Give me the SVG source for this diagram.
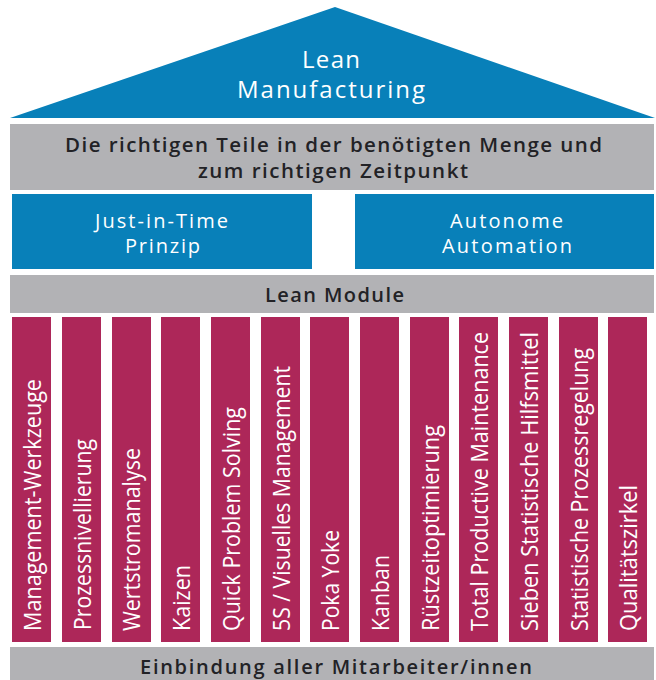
<svg xmlns="http://www.w3.org/2000/svg" width="656" height="680" viewBox="0 0 656 680">
<style>
.blue{fill:#0880B9}
.gray{fill:#B2B2B5}
.col{fill:#AD2759}
.wt{font-family:"Open Sans","Liberation Sans",sans-serif;fill:#FFFFFF;font-weight:500;text-anchor:middle}
.dt{font-family:"Open Sans","Liberation Sans",sans-serif;fill:#222226;font-weight:600;text-anchor:middle}
.ct{font-family:"Open Sans","Liberation Sans",sans-serif;fill:#FFFFFF;font-size:23px;font-weight:400}
</style>
<rect width="656" height="680" fill="#FFFFFF"/>
<g id="roof">
<polygon class="blue" points="10,118 335,7 655,118"/>
<text class="wt" x="331" y="68" font-size="24" textLength="58" lengthAdjust="spacing">Lean</text>
<text class="wt" x="331" y="98" font-size="24" textLength="188" lengthAdjust="spacing">Manufacturing</text>
</g>
<g id="goal">
<rect class="gray" x="10" y="124" width="644" height="66"/>
<text class="dt" x="333.5" y="152" font-size="20.5" textLength="537" lengthAdjust="spacing">Die richtigen Teile in der benötigten Menge und</text>
<text class="dt" x="333" y="178" font-size="20.5" textLength="270" lengthAdjust="spacing">zum richtigen Zeitpunkt</text>
</g>
<g id="jit">
<rect class="blue" x="12" y="194" width="300" height="75"/>
<text class="wt" x="161.5" y="228" font-size="20" textLength="133" lengthAdjust="spacing">Just-in-Time</text>
<text class="wt" x="162.5" y="253" font-size="20" textLength="75" lengthAdjust="spacing">Prinzip</text>
</g>
<g id="jidoka">
<rect class="blue" x="355" y="194" width="299" height="75"/>
<text class="wt" x="506.5" y="228" font-size="20" textLength="113" lengthAdjust="spacing">Autonome</text>
<text class="wt" x="507" y="253" font-size="20" textLength="130" lengthAdjust="spacing">Automation</text>
</g>
<g id="lean-module">
<rect class="gray" x="10" y="275" width="644" height="38"/>
<text class="dt" x="334.5" y="302" font-size="20" textLength="139" lengthAdjust="spacing">Lean Module</text>
</g>
<g id="m1"><rect class="col" x="12" y="317" width="39" height="325"/><text class="ct" transform="translate(40.5,631) rotate(-90)" textLength="252" lengthAdjust="spacingAndGlyphs">Management-Werkzeuge</text></g>
<g id="m2"><rect class="col" x="62" y="317" width="39" height="325"/><text class="ct" transform="translate(90.5,630) rotate(-90)" textLength="191" lengthAdjust="spacingAndGlyphs">Prozessnivellierung</text></g>
<g id="m3"><rect class="col" x="112" y="317" width="39" height="325"/><text class="ct" transform="translate(140,631) rotate(-90)" textLength="183" lengthAdjust="spacingAndGlyphs">Wertstromanalyse</text></g>
<g id="m4"><rect class="col" x="161" y="317" width="39" height="325"/><text class="ct" transform="translate(189.5,631) rotate(-90)" textLength="66" lengthAdjust="spacingAndGlyphs">Kaizen</text></g>
<g id="m5"><rect class="col" x="211" y="317" width="39" height="325"/><text class="ct" transform="translate(239.5,631) rotate(-90)" textLength="224" lengthAdjust="spacingAndGlyphs">Quick Problem Solving</text></g>
<g id="m6"><rect class="col" x="261" y="317" width="39" height="325"/><text class="ct" transform="translate(289.5,631) rotate(-90)" textLength="265" lengthAdjust="spacingAndGlyphs">5S / Visuelles Management</text></g>
<g id="m7"><rect class="col" x="310" y="317" width="39" height="325"/><text class="ct" transform="translate(338.5,631) rotate(-90)" textLength="101" lengthAdjust="spacingAndGlyphs">Poka Yoke</text></g>
<g id="m8"><rect class="col" x="360" y="317" width="39" height="325"/><text class="ct" transform="translate(388.5,631) rotate(-90)" textLength="76" lengthAdjust="spacingAndGlyphs">Kanban</text></g>
<g id="m9"><rect class="col" x="410" y="317" width="39" height="325"/><text class="ct" transform="translate(438.5,631) rotate(-90)" textLength="206" lengthAdjust="spacingAndGlyphs">Rüstzeitoptimierung</text></g>
<g id="m10"><rect class="col" x="459" y="317" width="39" height="325"/><text class="ct" transform="translate(487.5,631) rotate(-90)" textLength="299" lengthAdjust="spacingAndGlyphs">Total Productive Maintenance</text></g>
<g id="m11"><rect class="col" x="509" y="317" width="39" height="325"/><text class="ct" transform="translate(537.5,631) rotate(-90)" textLength="299" lengthAdjust="spacingAndGlyphs">Sieben Statistische Hilfsmittel</text></g>
<g id="m12"><rect class="col" x="559" y="317" width="39" height="325"/><text class="ct" transform="translate(587.5,631) rotate(-90)" textLength="283" lengthAdjust="spacingAndGlyphs">Statistische Prozessregelung</text></g>
<g id="m13"><rect class="col" x="608" y="317" width="39" height="325"/><text class="ct" transform="translate(636.5,631) rotate(-90)" textLength="146" lengthAdjust="spacingAndGlyphs">Qualitätszirkel</text></g>
<g id="base">
<rect class="gray" x="10" y="647" width="644" height="33"/>
<text class="dt" x="336" y="674" font-size="20" textLength="392" lengthAdjust="spacing">Einbindung aller Mitarbeiter/innen</text>
</g>
<g id="connectors"/>
</svg>
